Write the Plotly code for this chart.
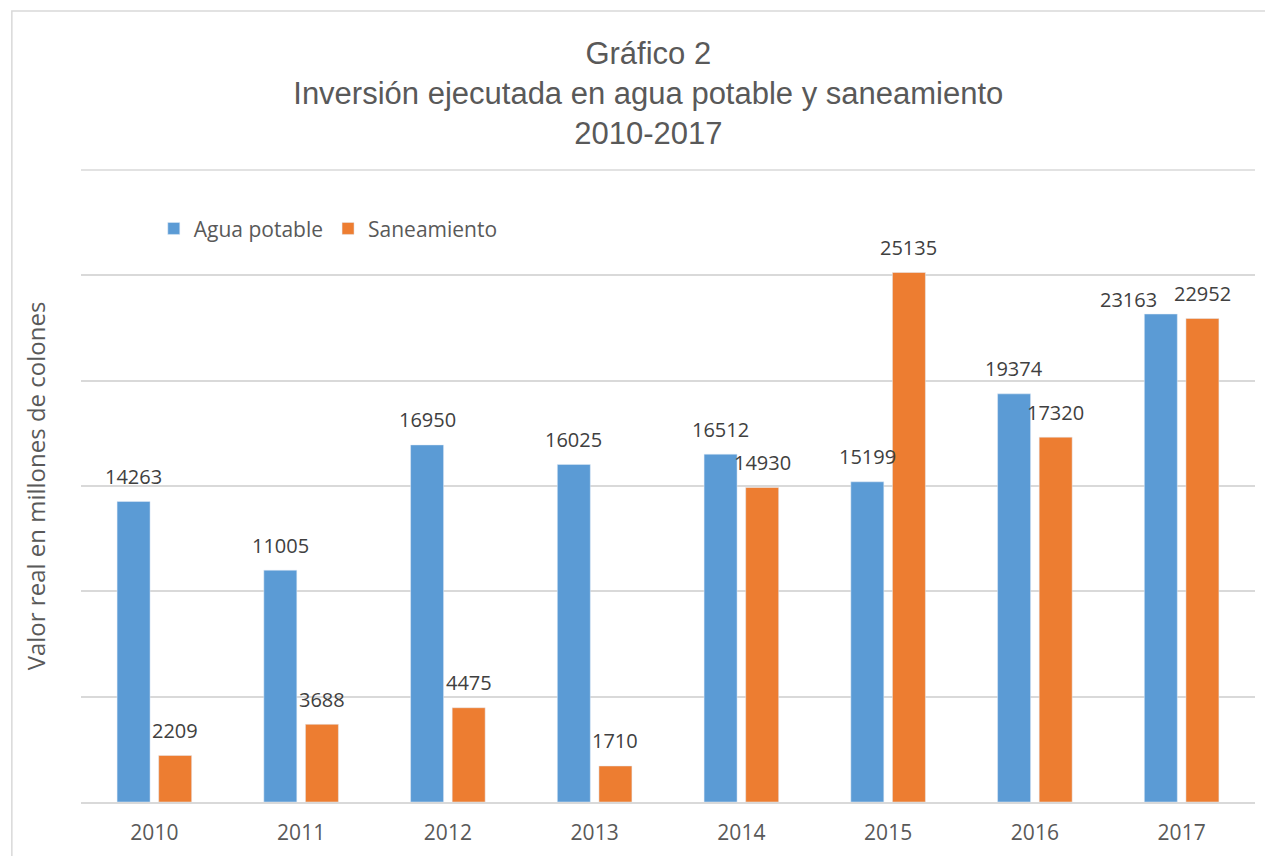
import plotly.graph_objects as go

years = ["2010", "2011", "2012", "2013", "2014", "2015", "2016", "2017"]
agua = [14263, 11005, 16950, 16025, 16512, 15199, 19374, 23163]
saneamiento = [2209, 3688, 4475, 1710, 14930, 25135, 17320, 22952]

base_font = "Open Sans, Noto Sans, DejaVu Sans"
label_font = dict(family=base_font, size=20, color="#404040")

W, H = 1273, 856
M = dict(l=73, r=26, t=162, b=62)
BARGAP = 0.433
BARGROUPGAP = 0.207

fig = go.Figure()
fig.add_trace(go.Bar(x=years, y=agua, name="Agua potable", marker_color="#5B9BD5"))
fig.add_trace(go.Bar(x=years, y=saneamiento, name="Saneamiento", marker_color="#ED7D31"))

# data labels (placed like Excel's: centred above each bar, one nudged aside)
plot_w = W - M["l"] - M["r"]
cat_px = plot_w / len(years)
bar_off = (1 - BARGAP) * cat_px / 4
label_dx = {"agua": [0, 0, 0, 0, 0, 0, 0, -32],
            "san": [0, 0, 0, 0, 0, 0, 0, 0]}
label_dy = {"agua": [0, 0, 0, 0, 0, 0, 0, -10],
            "san": [0, 0, 0, 0, 0, 0, 0, 0]}
annotations = []
for key, vals, side in (("agua", agua, -1), ("san", saneamiento, 1)):
    for i, v in enumerate(vals):
        annotations.append(dict(
            x=i, y=v, xref="x", yref="y", text=str(v), showarrow=False,
            xanchor="center", yanchor="middle",
            xshift=side * bar_off + label_dx[key][i], yshift=25 + label_dy[key][i],
            font=label_font,
        ))

fig.update_layout(
    width=W, height=H,
    paper_bgcolor="white", plot_bgcolor="white",
    margin=M,
    barmode="group", bargap=BARGAP, bargroupgap=BARGROUPGAP,
    title=dict(
        text="Gráfico 2<br>Inversión ejecutada en agua potable y saneamiento<br>2010-2017",
        x=0.503, xanchor="center", y=0.935, yanchor="middle",
        font=dict(family="Liberation Sans Narrow, Arial Narrow, Liberation Sans", size=31, color="#595959"),
    ),
    legend=dict(
        orientation="h", x=0.062, xanchor="left", y=0.907, yanchor="middle",
        font=dict(family=base_font, size=21, color="#595959"),
        bgcolor="rgba(0,0,0,0)", itemwidth=30,
    ),
    annotations=annotations,
    showlegend=True,
)
fig.update_xaxes(
    type="category", range=[-0.5, len(years) - 0.5],
    showgrid=False, showline=True, linecolor="#d9d9d9", linewidth=1.5,
    ticks="", ticklabelstandoff=11,
    tickfont=dict(family=base_font, size=21, color="#595959"),
)
fig.update_yaxes(
    range=[0, 30000], dtick=5000, showgrid=True, gridcolor="#d9d9d9", gridwidth=1.5,
    showticklabels=False, zeroline=False, showline=False,
    title=dict(text="Valor real en millones de colones", standoff=27,
               font=dict(family=base_font, size=24, color="#595959")),
)
# top gridline (axis maximum)
fig.add_shape(type="line", xref="paper", yref="y domain", x0=0, x1=1, y0=1, y1=1,
              line=dict(color="#d9d9d9", width=1.5), layer="below")
# chart frame
fig.add_shape(type="rect", xref="paper", yref="paper",
              x0=-0.0589, x1=1.05, y0=-0.2, y1=1.2516,
              line=dict(color="#d9d9d9", width=1.5), fillcolor="rgba(0,0,0,0)", layer="below")

fig.write_html("out.html")
